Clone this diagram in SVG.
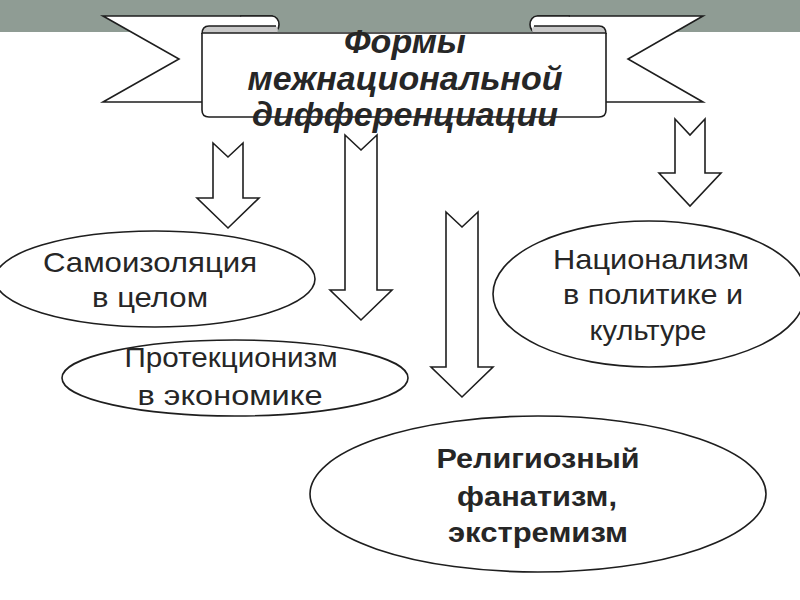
<svg xmlns="http://www.w3.org/2000/svg" width="800" height="600" viewBox="0 0 800 600">
<style>
.ln{fill:#fff;stroke:#1e1e1e;stroke-width:1.6;stroke-linejoin:miter}
.gr{fill:#c9c9c9;stroke:none}
.st{fill:none;stroke:#1e1e1e;stroke-width:1.6}
.t{font-family:"Liberation Sans",Arial,sans-serif;font-size:28px;fill:#262626;text-anchor:middle}
.b{font-weight:bold;font-size:27px}
.ti{font-family:"Liberation Sans",Arial,sans-serif;font-size:34px;font-weight:bold;font-style:italic;fill:#262626;text-anchor:middle}
</style>
<rect x="0" y="0" width="800" height="32" fill="#8f9c94"/>
<g id="banner">
  <polygon class="ln" points="103,16 272,16 272,102 103,102 179,59"/>
  <polygon class="ln" points="703,16 538,16 538,102 703,102 628,59"/>
  <path class="ln" d="M240,16 L272,16 A7,8.5 0 0 1 272,33"/>
  <path class="ln" d="M570,16 L537,16 A7,8.5 0 0 0 537,33"/>
  <path class="gr" d="M202,34 Q202,26 209,26 L276,26 Q280,30 276,34 Z"/>
  <path class="st" d="M202,34 Q202,26 209,26 L276,26"/>
  <path class="gr" d="M606,34 Q606,26 599,26 L534,26 Q530,30 534,34 Z"/>
  <path class="st" d="M606,34 Q606,26 599,26 L534,26"/>
  <path class="ln" d="M202,33 L202,110 Q202,117 209,117 L599,117 Q606,117 606,110 L606,33"/>
  <line class="st" x1="202" y1="33" x2="606" y2="33"/>
  <text class="ti" x="405" y="53">Формы</text>
  <text class="ti" x="405" y="90">межнациональной</text>
  <text class="ti" x="405" y="126">дифференциации</text>
</g>
<g id="connectors">
  <path class="ln" d="M213,143 L228,157 L243,143 L243,198 L259,198 L228,228 L197,198 L213,198 Z"/>
  <path class="ln" d="M345,135 L361,150 L377,135 L377,290 L392,290 L361,320 L330,290 L345,290 Z"/>
  <path class="ln" d="M446,212 L462,227 L478,212 L478,367 L493,367 L462,397 L431,367 L446,367 Z"/>
  <path class="ln" d="M675,119 L690,135 L705,119 L705,173 L721,173 L690,206 L659,173 L675,173 Z"/>
</g>
<g id="node-samoizolyatsiya">
  <ellipse class="ln" cx="155" cy="279" rx="160" ry="48"/>
  <text class="t" x="150" y="272" textLength="214" lengthAdjust="spacingAndGlyphs">Самоизоляция</text>
  <text class="t" x="150" y="307" textLength="116" lengthAdjust="spacingAndGlyphs">в целом</text>
</g>
<g id="node-protektsionizm">
  <ellipse class="ln" cx="235" cy="378" rx="173" ry="38"/>
  <text class="t" x="231" y="367" textLength="213" lengthAdjust="spacingAndGlyphs">Протекционизм</text>
  <text class="t" x="230" y="405" textLength="185" lengthAdjust="spacingAndGlyphs">в экономике</text>
</g>
<g id="node-natsionalizm">
  <ellipse class="ln" cx="649" cy="294" rx="156" ry="73"/>
  <text class="t" x="651" y="269" textLength="196" lengthAdjust="spacingAndGlyphs">Национализм</text>
  <text class="t" x="653" y="304" textLength="180" lengthAdjust="spacingAndGlyphs">в политике и</text>
  <text class="t" x="648" y="340" textLength="117" lengthAdjust="spacingAndGlyphs">культуре</text>
</g>
<g id="node-religioznyi">
  <ellipse class="ln" cx="538" cy="494" rx="228" ry="78"/>
  <text class="t b" x="538" y="468" textLength="203" lengthAdjust="spacingAndGlyphs">Религиозный</text>
  <text class="t b" x="537" y="506" textLength="160" lengthAdjust="spacingAndGlyphs">фанатизм,</text>
  <text class="t b" x="538" y="542" textLength="180" lengthAdjust="spacingAndGlyphs">экстремизм</text>
</g>
</svg>
